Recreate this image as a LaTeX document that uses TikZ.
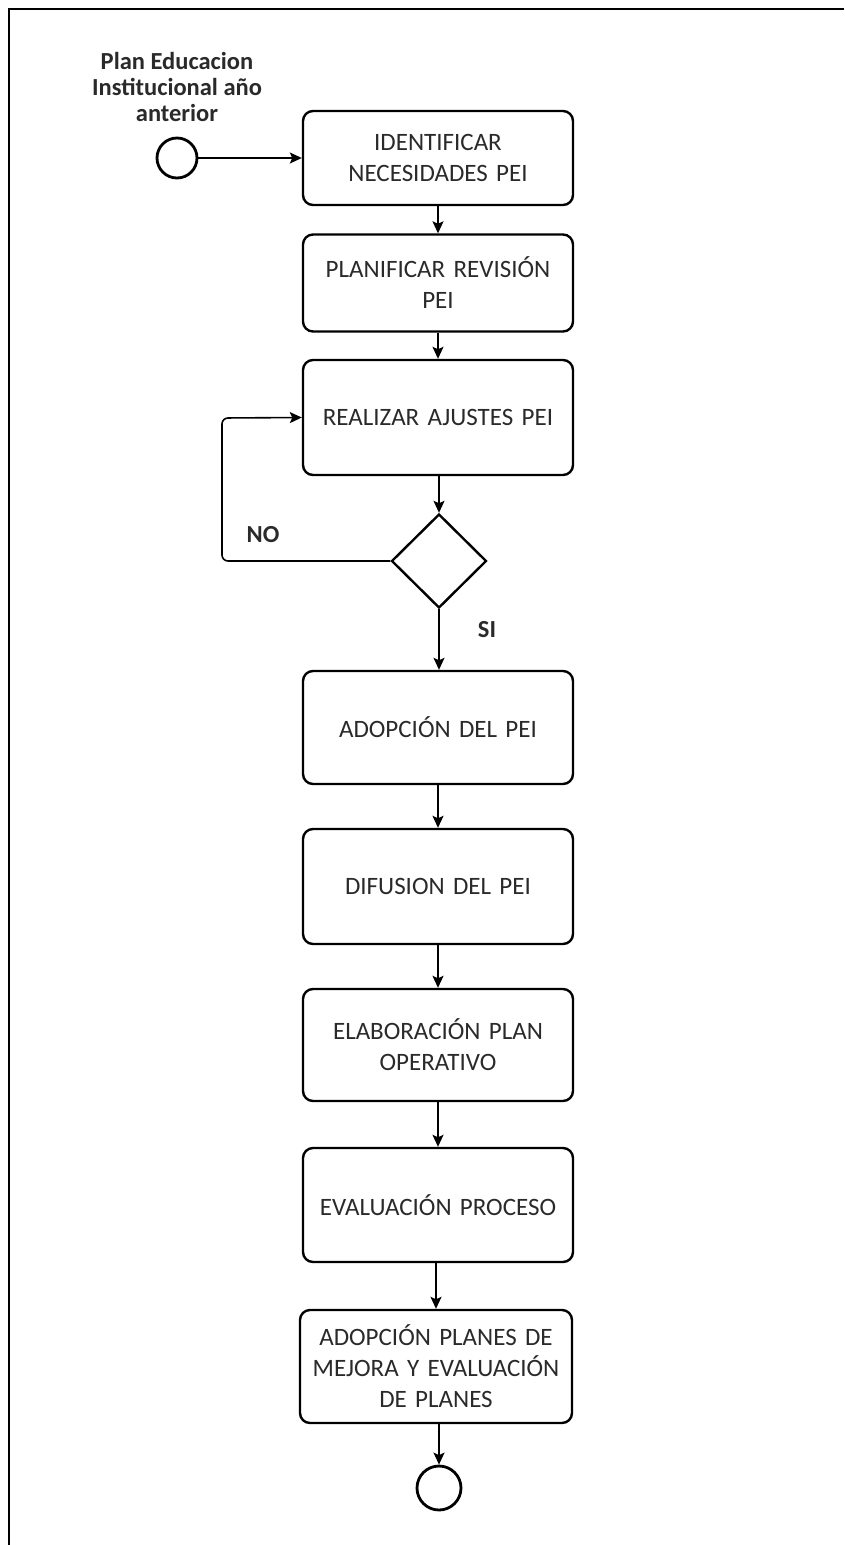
\documentclass[tikz,border=0pt]{standalone}
\usepackage{fontspec}
\setmainfont{Carlito}
\usetikzlibrary{shapes.geometric,arrows.meta}
\definecolor{txt}{HTML}{2A2A2A}
\begin{document}
\begin{tikzpicture}[x=1pt,y=-1pt,
  stepbox/.style={draw,line width=2.4pt,rounded corners=10pt,minimum width=270pt,text width=262pt,align=center,inner sep=0pt,font=\fontsize{25}{31}\selectfont,text=txt},
  conn/.style={line width=1.6pt,-{Stealth[length=12pt,width=11pt,inset=2.5pt]}},
  evt/.style={draw,circle,line width=2.8pt,inner sep=0pt},
  lbl/.style={font=\fontsize{24.5}{26}\selectfont\bfseries,text=txt,align=center}]
\useasboundingbox (0,0) rectangle (844,1545);
\fill[white] (0,0) rectangle (844,1545);
\draw[line width=2.4pt] (9,1545) -- (9,9) -- (844,9);

\node[evt,minimum size=40pt] (start) at (177,158) {};
\node[lbl] (startlbl) at (177,87) {Plan Educacion\\Institucional año\\anterior};

\node[stepbox,minimum height=94pt] (b1) at (438,158) {IDENTIFICAR\\NECESIDADES PEI};
\node[stepbox,minimum height=97pt] (b2) at (438,283) {PLANIFICAR REVISIÓN\\PEI};
\node[stepbox,minimum height=115pt] (b3) at (438,417.5) {REALIZAR AJUSTES PEI};
\node[draw,diamond,aspect=1,line width=2.4pt,minimum width=95pt,minimum height=94pt,inner sep=0pt] (d) at (439,561) {};
\node[stepbox,minimum height=113pt] (b4) at (438,727.5) {ADOPCIÓN DEL PEI};
\node[stepbox,minimum height=115pt] (b5) at (438,886.5) {DIFUSION DEL PEI};
\node[stepbox,minimum height=112pt] (b6) at (438,1045) {ELABORACIÓN PLAN\\OPERATIVO};
\node[stepbox,minimum height=114pt] (b7) at (438,1205) {EVALUACIÓN PROCESO};
\node[stepbox,minimum width=272pt,minimum height=113pt] (b8) at (436,1366.5) {ADOPCIÓN PLANES DE\\MEJORA Y EVALUACIÓN\\DE PLANES};
\node[evt,minimum size=44pt] (end) at (439,1488) {};

\node[lbl] (no) at (263,535) {NO};
\node[lbl] (si) at (487,630) {SI};

\coordinate (lp1) at (222,561);
\coordinate (lp2) at (222,418);

\draw[conn] (start) -- (b1);
\draw[conn] (b1) -- (b2);
\draw[conn] (b2) -- (b3);
\draw[conn] (b3.south -| d.north) -- (d);
\draw[conn] (d) -- (b4.north -| d.south);
\draw[conn,rounded corners=6pt] (d.west) -- (lp1) -- (lp2) -- (b3.west);
\draw[conn] (b4) -- (b5);
\draw[conn] (b5) -- (b6);
\draw[conn] (b6) -- (b7);
\draw[conn] (b7.south -| b8.north) -- (b8);
\draw[conn] (b8.south -| end.north) -- (end);
\end{tikzpicture}
\end{document}
